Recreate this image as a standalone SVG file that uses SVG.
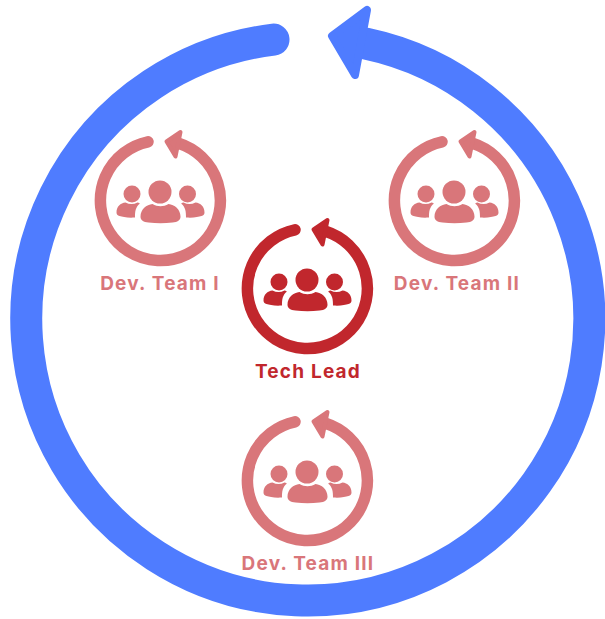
<svg xmlns="http://www.w3.org/2000/svg" width="605" height="619" viewBox="0 0 605 619">
<style>
.big{fill:none;stroke:#4f7cff;stroke-width:32;stroke-linecap:round}
.bighead{fill:#4f7cff;stroke:#4f7cff;stroke-width:8;stroke-linejoin:round}
.ring{fill:none;stroke:currentColor;stroke-width:11.500;stroke-linecap:round}
.head{fill:currentColor;stroke:currentColor;stroke-width:4;stroke-linejoin:round}
.ppl{fill:currentColor}
.pink{color:#d9767a}
.red{color:#c1272d}
text{font-family:"Inter","Liberation Sans",sans-serif;font-weight:700;font-size:19px;text-anchor:middle;letter-spacing:1.200px;fill:currentColor}
</style>
<defs>
<g id="cycle">
<path class="ring" d="M-12.500 -58.700A60 60 0 1 0 18 -57.200"/>
<polygon class="head" points="6,-59 20,-68.500 15,-44"/>
<circle class="ppl" cx="-0.500" cy="-8.500" r="11.500"/>
<circle class="ppl" cx="-28.500" cy="-6.500" r="8.500"/>
<circle class="ppl" cx="27" cy="-6.500" r="8.500"/>
<path class="ppl" d="M-20 16C-20 9 -14 4 -8 3.500C-3 6.500 3 6.500 8 3.500C14 4 20 9 20 16C20 20 17 21.500 12 22C4 23 -4 23 -12 22C-17 21.500 -20 20 -20 16Z"/>
<path class="ppl" d="M-44 12C-44 6 -40 2.500 -35 2C-31 4 -27 4 -23 2C-22.500 2 -21.500 2.500 -20.500 3C-25 6.500 -25.500 11 -25.500 17C-33 17.500 -38 16.500 -41 15.500C-43 15 -44 14 -44 12Z"/>
<path class="ppl" d="M44 12C44 6 40 2.500 35 2C31 4 27 4 23 2C22.500 2 21.500 2.500 20.500 3C25 6.500 25.500 11 25.500 17C33 17.500 38 16.500 41 15.500C43 15 44 14 44 12Z"/>
</g>
</defs>
<g id="connectors">
<path class="big" d="M273.500 39.600A281.500 281.500 0 1 0 366 43.600"/>
<polygon class="bighead" points="332,36 367,10 355,75"/>
</g>
<g id="dev-team-1" class="pink"><use href="#cycle" x="160.500" y="200.500"/><text x="160" y="290">Dev. Team I</text></g>
<g id="dev-team-2" class="pink"><use href="#cycle" x="454.500" y="200.500"/><text x="457" y="290">Dev. Team II</text></g>
<g id="tech-lead" class="red"><use href="#cycle" x="307.500" y="288.500"/><text x="308" y="378">Tech Lead</text></g>
<g id="dev-team-3" class="pink"><use href="#cycle" x="307.500" y="480.500"/><text x="308" y="570">Dev. Team III</text></g>
</svg>
